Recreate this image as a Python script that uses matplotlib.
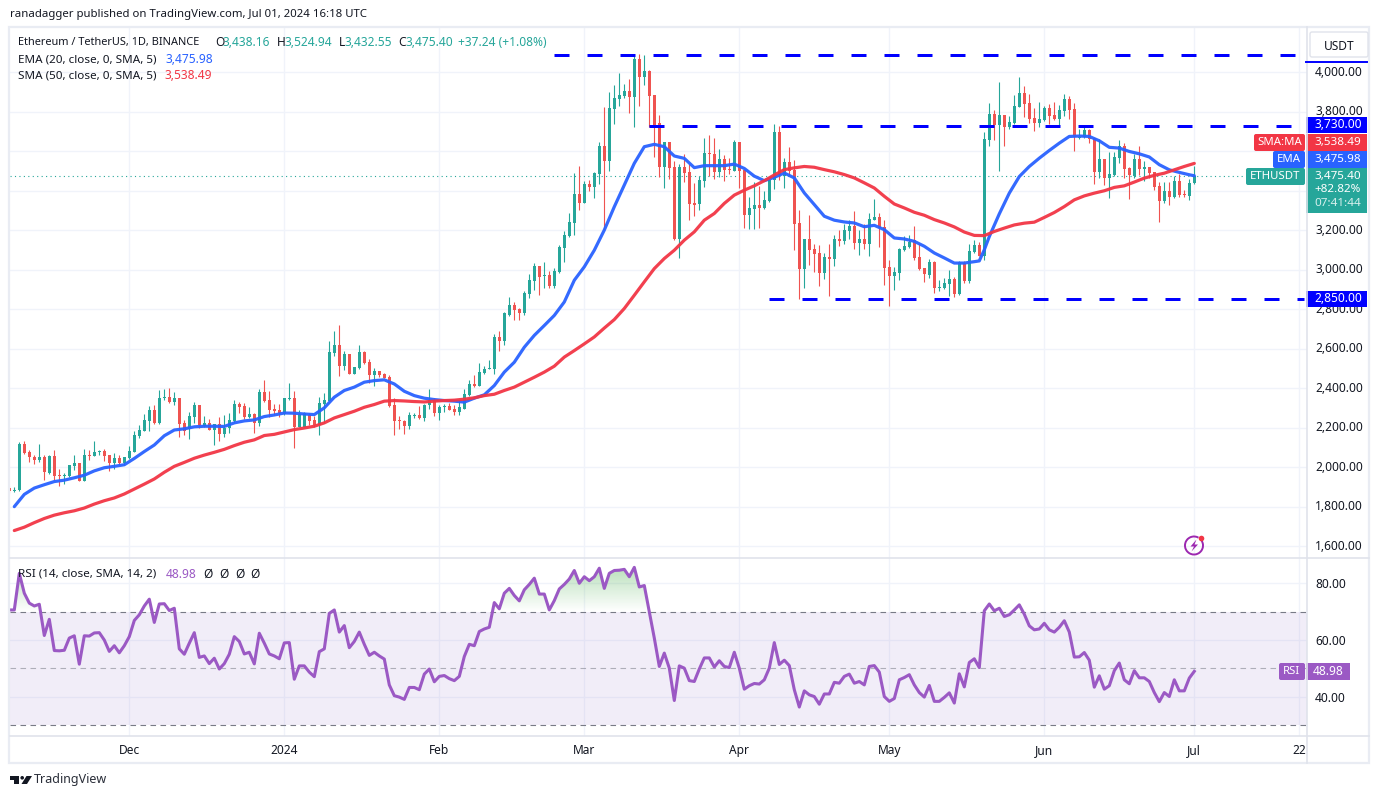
# ETH/USDT daily chart, TradingView look
import matplotlib
matplotlib.use("Agg")
import matplotlib.pyplot as plt
import numpy as np
from matplotlib.patches import Rectangle, FancyBboxPatch, Polygon, Circle, Arc
from matplotlib.path import Path
from matplotlib.transforms import ScaledTranslation

plt.rcParams["font.family"] = ["Noto Sans", "DejaVu Sans"]

W, H = 1382, 798

# candles, one per day from 2023-11-07 to 2024-07-01
opens = [1895,
    1882,1885,2118,2079,2054,2039,2054,1973,2059,1963,
    1958,1958,2008,2024,1929,2064,2059,2079,2084,2064,
    2024,2049,2024,2049,2079,2161,2186,2237,2292,2226,
    2353,2358,2333,2353,2226,2196,2257,2313,2211,2226,
    2191,2221,2171,2201,2237,2323,2308,2257,2272,2226,
    2379,2343,2297,2292,2272,2348,2353,2206,2206,2267,
    2240,2216,2323,2338,2581,2617,2515,2576,2470,2505,
    2586,2531,2465,2490,2470,2455,2313,2242,2237,2211,
    2262,2267,2252,2313,2343,2277,2303,2308,2297,2282,
    2297,2368,2424,2414,2480,2497,2500,2662,2637,2770,
    2824,2800,2780,2875,2942,3018,2967,2973,2917,2988,
    3109,3170,3236,3383,3338,3434,3419,3485,3627,3551,
    3814,3865,3880,3905,3875,4068,3976,4007,3885,3743,
    3520,3647,3520,3155,3520,3495,3338,3333,3449,3591,
    3586,3495,3561,3510,3500,3647,3505,3277,3307,3327,
    3312,3348,3452,3700,3477,3548,3507,3239,3005,3158,
    3107,3087,2985,3066,3056,3158,3147,3198,3224,3137,
    3158,3132,3254,3269,3218,3016,2970,2985,3102,3117,
    3153,3066,3011,2975,3041,2909,2909,2929,2955,2879,
    3036,2945,3092,3126,3070,3658,3790,3734,3785,3724,
    3745,3826,3897,3846,3770,3745,3760,3821,3785,3765,
    3805,3866,3816,3669,3674,3709,3669,3496,3562,3466,
    3481,3567,3628,3516,3476,3562,3511,3521,3496,3425,
    3349,3400,3369,3451,3385,3374,3438.16]
highs = [1905,
    1902,2130,2134,2090,2063,2118,2063,2063,2090,1993,
    1973,2013,2064,2024,2093,2090,2135,2090,2095,2064,
    2074,2064,2054,2110,2186,2216,2272,2308,2313,2389,
    2394,2404,2379,2353,2242,2282,2333,2318,2262,2247,
    2221,2257,2267,2277,2343,2333,2328,2303,2277,2394,
    2444,2384,2323,2323,2353,2429,2384,2292,2279,2274,
    2262,2358,2374,2642,2688,2718,2591,2576,2510,2617,
    2591,2546,2505,2490,2480,2465,2353,2262,2242,2282,
    2277,2308,2323,2394,2353,2313,2323,2328,2318,2343,
    2394,2444,2465,2526,2515,2541,2673,2688,2784,2864,
    2839,2805,2895,2978,3033,3018,3038,2993,3008,3125,
    3196,3287,3490,3525,3449,3454,3495,3647,3824,3900,
    3936,3997,3941,3966,4088,4093,4088,4012,3885,3784,
    3647,3647,3551,3535,3586,3535,3439,3474,3667,3682,
    3667,3611,3581,3566,3657,3647,3505,3368,3444,3424,
    3398,3464,3736,3730,3568,3624,3558,3305,3158,3279,
    3132,3127,3087,3132,3178,3203,3234,3254,3300,3203,
    3234,3289,3360,3289,3254,3051,3016,3112,3173,3178,
    3224,3137,3011,3056,3046,2950,2960,3000,2965,3046,
    3046,3132,3153,3141,3699,3846,3810,3952,3785,3780,
    3887,3978,3932,3892,3821,3851,3831,3841,3851,3836,
    3892,3881,3846,3714,3729,3714,3669,3663,3562,3598,
    3598,3658,3643,3521,3587,3628,3552,3521,3496,3445,
    3445,3445,3476,3486,3405,3461,3524.94]
lows = [1872,
    1873,1880,2066,2029,2015,2029,1937,1968,1937,1904,
    1917,1949,1988,1929,1929,2039,2059,2064,2034,1983,
    1993,2013,2013,2044,2079,2150,2186,2186,2221,2221,
    2341,2328,2313,2155,2166,2145,2226,2201,2206,2191,
    2115,2135,2155,2176,2226,2277,2247,2252,2176,2211,
    2333,2257,2267,2257,2267,2343,2100,2203,2206,2216,
    2206,2166,2226,2338,2566,2460,2495,2470,2470,2500,
    2521,2429,2414,2455,2450,2303,2166,2196,2171,2196,
    2252,2247,2232,2297,2262,2242,2282,2292,2267,2267,
    2297,2363,2409,2414,2470,2497,2470,2591,2617,2765,
    2744,2744,2770,2859,2896,2871,2907,2907,2907,2983,
    3038,3165,3175,3302,3338,3398,3363,3434,3201,3500,
    3738,3829,3870,3794,3723,3829,3936,3723,3571,3469,
    3414,3459,3150,3059,3444,3251,3272,3302,3419,3474,
    3459,3469,3449,3485,3500,3414,3209,3206,3206,3211,
    3307,3343,3411,3452,3416,3482,3102,2853,2909,3026,
    2990,2919,2955,2869,3021,3122,3132,3158,3107,3076,
    3107,3071,3254,3117,2924,2818,2899,2950,3097,3112,
    3051,3000,2940,2960,2884,2894,2904,2869,2864,2874,
    2934,2934,3087,3070,3050,3628,3658,3501,3628,3714,
    3740,3826,3775,3745,3704,3724,3755,3740,3760,3729,
    3780,3765,3603,3663,3669,3643,3435,3466,3430,3364,
    3476,3542,3466,3359,3466,3481,3451,3466,3405,3243,
    3339,3329,3364,3369,3369,3354,3432.55]
closes = [1880,
    1885,2118,2074,2051,2039,2054,1975,2059,1958,1958,
    1963,2013,2022,1929,2064,2059,2079,2084,2059,2024,
    2049,2024,2054,2084,2166,2191,2242,2292,2226,2353,
    2358,2333,2353,2221,2186,2262,2313,2216,2226,2191,
    2220,2171,2201,2242,2323,2303,2257,2272,2226,2379,
    2338,2292,2287,2277,2353,2353,2206,2270,2274,2237,
    2216,2328,2343,2586,2617,2515,2576,2470,2510,2586,
    2526,2465,2490,2465,2450,2308,2237,2235,2211,2267,
    2267,2252,2318,2343,2277,2303,2308,2292,2282,2303,
    2373,2424,2414,2485,2500,2505,2662,2637,2779,2824,
    2795,2780,2880,2947,3018,2962,2973,2917,2993,3115,
    3175,3241,3383,3338,3434,3419,3490,3627,3551,3819,
    3870,3885,3905,3875,4068,3976,4007,3880,3728,3520,
    3647,3515,3155,3520,3490,3333,3327,3454,3591,3586,
    3495,3561,3505,3505,3647,3500,3277,3312,3327,3312,
    3353,3454,3700,3482,3548,3502,3234,3005,3158,3102,
    3082,2985,3066,3056,3158,3147,3203,3224,3137,3158,
    3132,3259,3269,3213,3011,2970,2990,3107,3122,3142,
    3061,3005,2980,3041,2909,2914,2934,2955,2879,3041,
    2945,3097,3127,3070,3663,3790,3734,3785,3724,3750,
    3831,3897,3841,3765,3745,3765,3821,3780,3765,3810,
    3866,3810,3674,3674,3709,3663,3496,3562,3466,3486,
    3572,3628,3511,3481,3562,3511,3521,3491,3420,3349,
    3400,3369,3451,3380,3380,3440,3475.40]

# EMA 20, read every second candle
ema_idx = list(range(1, 194, 2)) + [194, 195] + list(range(196, 237, 2)) + [237]
ema_vals = [1801,1863,1895,1912,1928,1935,1947,1960,1982,1998,2005,2013,2045,2080,
    2113,2160,2189,2195,2205,2208,2208,2207,2225,2235,2240,2257,2265,2275,2274,2270,
    2267,2301,2355,2389,2406,2431,2439,2443,2422,2385,2363,2350,2343,2338,2335,2330,
    2350,2367,2414,2482,2532,2608,2668,2718,2769,2837,2947,3015,3099,3201,3319,3429,
    3539,3623,3635,3623,3576,3564,3517,3527,3527,3527,3535,3513,3474,3451,3468,3490,
    3465,3389,3330,3271,3251,3242,3237,3218,3225,3203,3161,3156,3144,3119,3085,3060,
    3034,3034,3041,
    3045,3101,
    3168,3283,3388,3472,3523,3565,3604,3641,3675,3677,3675,3653,3620,3616,3599,3587,
    3571,3532,3506,3493,3481,
    3475.98]

# SMA 50
sma_idx = list(range(1, 238, 2))
sma_vals = [1680,1697,1720,1741,1758,1770,1780,1794,1814,1831,1845,1865,1890,1915,
    1941,1975,2005,2025,2046,2062,2076,2091,2110,2127,2139,2161,2167,2179,2191,2199,
    2208,2225,2250,2267,2284,2304,2318,2335,2338,2336,2333,2331,2335,2338,2340,2345,
    2352,2363,2370,2389,2406,2431,2456,2482,2512,2558,2591,2625,2660,2705,2748,2804,
    2871,2939,3006,3057,3099,3150,3192,3251,3285,3336,3378,3403,3425,3451,3480,3507,
    3516,3523,3519,3507,3496,3482,3465,3440,3414,3372,3333,3313,3291,3276,3254,3237,
    3217,3191,3174,3173,3194,3211,3227,3236,3241,3265,3290,3320,3354,3374,3388,3400,
    3417,3425,3444,3464,3478,3489,3506,3523,3538.49]

# RSI 14, idx 0 to 237
rsi = [70.6,70.6,83.5,76.5,73,72,72.6,61.6,67.3,56.3,56.2,56.4,60.7,61.5,51.5,61.5,
    61.4,62.5,62.6,60,56,58,55.5,58,61.2,66.9,68.9,72,74.4,66.2,72.7,72.8,70.4,71.2,
    56.9,55,58.9,62.6,53.9,54.4,51.7,53.6,49.8,51.7,55,61.2,59.5,55.1,55.7,51.6,62.4,
    58.9,55.1,54.4,53.4,59,59.1,46.2,50.9,50.9,48.7,47.1,55.9,56.9,69.4,70.6,62.8,65.1,
    57.3,59.5,62.8,58.5,54.6,55.7,54.4,53.3,44.2,40.4,39.9,39.1,43.3,43.3,42.5,
    48,49.8,45.3,47.2,47.5,46.4,45.7,47.2,54.2,58.5,58,63,63.9,64.5,73.2,71,76.5,78.2,
    75.7,73.8,77.7,79.6,81.8,76.2,76.2,70.6,73.9,78,79.6,81.5,84.5,80,82.3,80.9,82.3,
    85.3,78.2,83.5,84.5,84.6,84.9,82.3,85.6,78.7,79.2,70,60.7,50.7,55.4,50.1,38.7,50.9,
    50.1,45.7,45.4,49.8,53.7,53.7,50.5,52.7,50.7,50.3,55.7,50.1,42.7,43.9,44.7,44.5,46,
    50.1,59.1,51.4,52.9,51,42.5,36.4,42.1,40.7,40.1,37.4,41,41,45.1,
    44.8,47.2,48,44.8,45.4,44.2,50.7,51,48.7,40.1,38.4,39.4,46,46.8,47.8,44.2,41.5,39.9,
    44,38.4,38.4,39.8,41.4,37.8,48.1,43.5,52.1,53.4,50.3,70.3,72.7,70.3,71.2,68.3,68.9,
    70.6,72.4,69.1,65,63.6,63.9,65.9,63.6,62.8,64.5,66.8,62.8,54,54.1,55.6,52.9,43.4,
    47.4,42.7,43.9,49.2,51.9,46,44.6,49.2,46.7,46.7,45.4,41.5,38.3,41.5,40.1,46,42.1,
    42.1,46.6,48.98]

# horizontal levels: price and candle where the line starts
level_prices = [4085, 3730, 2850]
level_starts = [109, 128, 152]
level_end = 259

price_ticks = [1600,1800,2000,2200,2400,2600,2800,3000,3200,3400,3600,3800,4000]
# 3,400 and 3,600 sit behind the tags in the original
price_hidden = [3400, 3600]
rsi_ticks = [40, 60, 80]
time_ticks = [24, 55, 86, 115, 146, 176, 207, 237, 258]
time_labels = ["Dec", "2024", "Feb", "Mar", "Apr", "May", "Jun", "Jul", "22"]

UP = "#26a69a"
DOWN = "#ef5350"
GRID = "#f0f3fa"
LINE = "#e0e3eb"
TEXT = "#131722"
BLUE = "#2962ff"
RED = "#f23645"
PURPLE = "#9b59c4"


def px_axes(fig, left, top, right, bottom):
    return fig.add_axes([left / W, 1 - bottom / H, (right - left) / W, (bottom - top) / H])


fig = plt.figure(figsize=(W / 100, H / 100), dpi=100, facecolor="white")
ax = px_axes(fig, 10, 27, 1307, 558)
ax2 = px_axes(fig, 10, 558, 1307, 736)
ov = fig.add_axes([0, 0, 1, 1], zorder=10)
ov.set_xlim(0, W)
ov.set_ylim(H, 0)
ov.axis("off")
ov.patch.set_alpha(0)

xs = np.arange(len(closes))
o = np.array(opens)
h = np.array(highs)
l = np.array(lows)
c = np.array(closes)
colors = [UP if c[i] >= o[i] else DOWN for i in xs]

# main pane
ax.set_xlim(0.14, 259.54)
ax.set_ylim(1541, 4229)
ax.vlines(xs, l, h, colors=colors, lw=0.8, zorder=2)
ax.bar(xs, np.maximum(np.abs(c - o), 4), bottom=np.minimum(o, c), width=0.66, color=colors, lw=0, zorder=3)
ax.plot(ema_idx, ema_vals, color=BLUE, lw=2.3, alpha=0.95, zorder=4, solid_capstyle="round")
ax.plot(sma_idx, sma_vals, color=RED, lw=2.3, alpha=0.95, zorder=4, solid_capstyle="round")
ax.axhline(closes[-1], color=UP, lw=0.8, ls=(0, (1, 3)), zorder=1)
for p, s in zip(level_prices, level_starts):
    ax.plot([s, level_end], [p, p], color="#0000ff", lw=2.16, ls=(0, (5, 6)), dash_capstyle="butt", zorder=5)

ax.set_yticks(price_ticks)
ax.set_yticklabels(["" if p in price_hidden else f"{p:,.2f}" for p in price_ticks])
ax.set_xticks(time_ticks)
ax.tick_params(axis="x", length=0, labelbottom=False)

# rsi pane
ax2.set_xlim(0.14, 259.54)
ax2.set_ylim(26.2, 88.9)
ax2.axhspan(30, 70, facecolor="#7e57c2", alpha=0.1, lw=0, zorder=1)
ax2.axhline(70, color="#787b86", lw=0.8, ls=(0, (5, 4)), zorder=2)
ax2.axhline(30, color="#787b86", lw=0.8, ls=(0, (5, 4)), zorder=2)
ax2.axhline(50, color="#787b86", lw=0.8, ls=(0, (5, 4)), alpha=0.55, zorder=2)

rsi_arr = np.array(rsi)
over = ax2.fill_between(xs, 70, rsi_arr, where=rsi_arr >= 70, interpolate=True, facecolor="none", lw=0)
grad = np.zeros((64, 2, 4))
grad[..., 0] = 0.30
grad[..., 1] = 0.69
grad[..., 2] = 0.31
grad[..., 3] = np.repeat(np.linspace(0.42, 0, 64)[:, None], 2, axis=1)
im = ax2.imshow(grad, extent=(0.14, 259.54, 70, 87), origin="upper", aspect="auto", zorder=2)
im.set_clip_path(Path.make_compound_path(*over.get_paths()), transform=ax2.transData)
ax2.set_xlim(0.14, 259.54)
ax2.set_ylim(26.2, 88.9)
ax2.plot(xs, rsi, color=PURPLE, lw=2.2, zorder=4, solid_joinstyle="round")

ax2.set_yticks(rsi_ticks)
ax2.set_yticklabels([f"{v:.2f}" for v in rsi_ticks])
ax2.set_xticks(time_ticks)
ax2.set_xticklabels(time_labels)
ax2.get_xticklabels()[1].set_fontweight("bold")

for a in (ax, ax2):
    a.grid(True, color=GRID, lw=1.0, zorder=0)
    a.set_axisbelow(True)
    a.yaxis.tick_right()
    a.tick_params(axis="y", length=0, pad=5.8, labelsize=8.6, labelcolor=TEXT)
    for s in a.spines.values():
        s.set_visible(False)
ax2.tick_params(axis="x", length=0, pad=5.8, labelsize=8.6, labelcolor=TEXT)

# price labels sit a bit higher than the grid lines
lift = ScaledTranslation(0, 1.5 / 100, fig.dpi_scale_trans)
for t in ax.get_yticklabels():
    t.set_transform(t.get_transform() + lift)


def txt(x, y, s, color=TEXT, size=8.6, ha="left", **kw):
    ov.text(x, y, s, color=color, fontsize=size, ha=ha, va="center", **kw)


def box(x0, y0, x1, y1, color, rounded=False):
    if rounded:
        ov.add_patch(FancyBboxPatch((x0 + 2, y0 + 2), x1 - x0 - 4, y1 - y0 - 4, boxstyle="round,pad=2",
                                    fc=color, ec="none"))
    else:
        ov.add_patch(Rectangle((x0, y0), x1 - x0, y1 - y0, fc=color, ec="none"))


# frame and separators
ov.add_patch(Rectangle((9.5, 26.5), 1359.5, 736, fc="none", ec="#e9ecf3", lw=1.6))
ov.plot([10, 1369], [558, 558], color=LINE, lw=1.2)
ov.plot([10, 1369], [736, 736], color=LINE, lw=1.2)
ov.plot([1307, 1307], [27, 763], color=LINE, lw=1.2)

# header and legends
txt(10, 15, "ranadagger published on TradingView.com, Jul 01, 2024 16:18 UTC", size=8.2)
txt(18, 42.5, "Ethereum / TetherUS, 1D, BINANCE", size=7.9)
for x, lab, val in [(215, "O", "3,438.16"), (277, "H", "3,524.94"), (339, "L", "3,432.55"), (398, "C", "3,475.40")]:
    txt(x, 42.5, lab, size=8.6)
    txt(x + (6 if lab == "L" else 8), 42.5, val, color=UP, size=8.6)
txt(458, 42.5, "+37.24 (+1.08%)", color=UP, size=8.6)
txt(18, 59.5, "EMA (20, close, 0, SMA, 5)", size=8.4)
txt(166, 59.5, f"{3475.98:,.2f}", color=BLUE, size=8.6)
txt(18, 75.5, "SMA (50, close, 0, SMA, 5)", size=8.4)
txt(165, 75.5, f"{3538.49:,.2f}", color=RED, size=8.6)
txt(18, 574, "RSI (14, close, SMA, 14, 2)", size=8.4)
txt(166, 574, "48.98", color=PURPLE, size=8.6)
for x in (203, 219, 235, 250):
    txt(x, 574, "Ø", size=8.6)

# price axis tags
ov.add_patch(FancyBboxPatch((1312, 34), 54, 21, boxstyle="round,pad=2", fc="white", ec=LINE, lw=1))
txt(1339, 46, "USDT", ha="center", size=8.6)
ov.plot([1306, 1367], [62, 62], color="#0000ff", lw=1.4)
box(1306, 117, 1367, 133, "#0000ff")
txt(1338, 125, "3,730.00", color="white", ha="center")
box(1306, 291, 1367, 307, "#0000ff")
txt(1338, 299, "2,850.00", color="white", ha="center")
box(1254, 134, 1305, 151, RED, rounded=True)
txt(1279.5, 142.5, "SMA:MA", color="white", ha="center", size=8.2)
box(1306, 134, 1367, 151, RED)
txt(1338, 142.5, "3,538.49", color="white", ha="center", size=8.4)
box(1273, 151, 1305, 168, BLUE, rounded=True)
txt(1289, 159.5, "EMA", color="white", ha="center", size=8.2)
box(1306, 151, 1367, 168, BLUE)
txt(1338, 159.5, "3,475.98", color="white", ha="center", size=8.4)
box(1246, 168, 1305, 185, UP, rounded=True)
txt(1275.5, 176.5, "ETHUSDT", color="white", ha="center", size=8.2)
box(1306, 168, 1367, 213, UP)
txt(1338, 176.5, "3,475.40", color="white", ha="center", size=8.4)
txt(1338, 190, "+82.82%", color="white", ha="center", size=8.4)
txt(1338, 203.5, "07:41:44", color="#d6efec", ha="center", size=8.4)
box(1279, 663, 1305, 680, PURPLE, rounded=True)
txt(1292, 671.5, "RSI", color="white", ha="center", size=8.2)
box(1306, 663, 1350, 680, PURPLE)
txt(1328.5, 671.5, "48.98", color="white", ha="center")

# bolt icon
ov.add_patch(Arc((1194, 545.5), 18, 18, theta1=-40, theta2=300, color="#9c27b0", lw=1.4))
ov.add_patch(Polygon([(1196.5, 539.5), (1190.5, 546.5), (1194, 546.5), (1191.5, 551.5), (1198, 544.5), (1194.5, 544.5)],
                     fc="#9c27b0", ec="none"))
ov.add_patch(Circle((1201.5, 538.5), 2.8, fc="#f23645", ec="none"))

# logo
ov.add_patch(Polygon([(10, 776), (19.5, 776), (19.5, 784), (14.5, 784), (14.5, 779.5), (10, 779.5)], fc=TEXT, ec="none"))
ov.add_patch(Circle((22.2, 777.8), 1.8, fc=TEXT, ec="none"))
ov.add_patch(Polygon([(26.5, 776), (32, 776), (27, 784), (21.5, 784)], fc=TEXT, ec="none"))
txt(34, 780, "TradingView", size=9.0, color="#2a2e39")

fig.savefig("out.png", dpi=100, facecolor="white")
